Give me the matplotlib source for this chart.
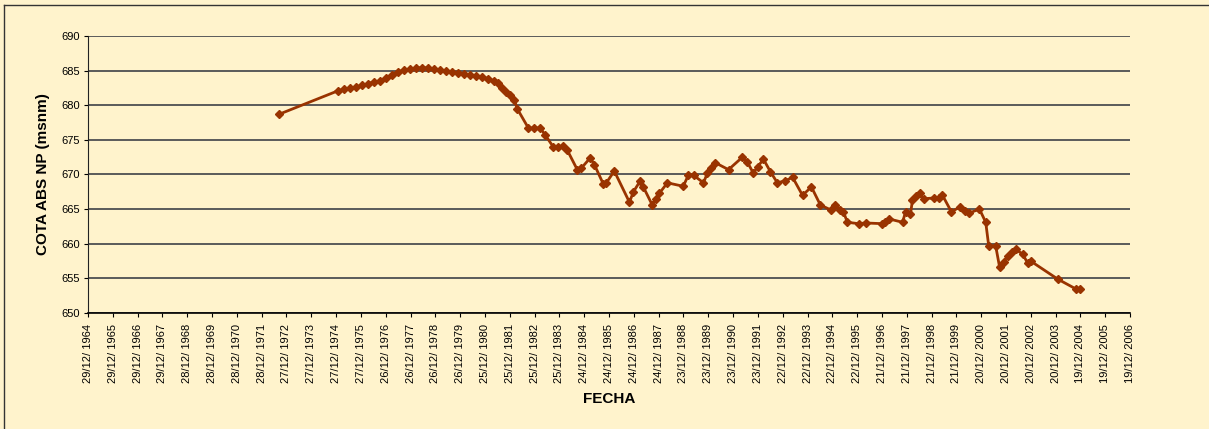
from datetime import datetime, timedelta
import matplotlib
matplotlib.use('Agg')
import matplotlib.pyplot as plt
import matplotlib.dates as mdates
from matplotlib.lines import Line2D

BG = '#FFF3CC'
LINE = '#993300'

# fecha (años decimales) y cota (msnm)
fecha = [1972.69, 1975.07, 1975.31, 1975.55, 1975.79, 1976.03, 1976.28, 1976.52,
         1976.76, 1977.00, 1977.24, 1977.49, 1977.73, 1977.97, 1978.21, 1978.45,
         1978.69, 1978.94, 1979.18, 1979.42, 1979.66, 1979.90, 1980.15, 1980.39,
         1980.63, 1980.87, 1981.11, 1981.35, 1981.52, 1981.68, 1981.84, 1982.00,
         1982.16, 1982.28, 1982.73, 1982.97, 1983.21, 1983.41, 1983.73, 1983.93,
         1984.14, 1984.30, 1984.70, 1984.86, 1985.22, 1985.39, 1985.75, 1985.87,
         1986.19, 1986.80, 1986.96, 1987.24, 1987.36, 1987.72, 1987.88, 1988.01,
         1988.33, 1988.97, 1989.17, 1989.38, 1989.78, 1989.94, 1990.10, 1990.26,
         1990.79, 1991.35, 1991.55, 1991.79, 1991.96, 1992.20, 1992.48, 1992.76,
         1993.08, 1993.37, 1993.77, 1994.13, 1994.49, 1994.90, 1995.10, 1995.30,
         1995.42, 1995.58, 1996.03, 1996.31, 1996.99, 1997.11, 1997.24, 1997.80,
         1997.92, 1998.12, 1998.20, 1998.36, 1998.49, 1998.65, 1999.05, 1999.25,
         1999.41, 1999.77, 2000.10, 2000.30, 2000.46, 2000.90, 2001.15, 2001.27,
         2001.55, 2001.71, 2001.87, 2002.03, 2002.19, 2002.35, 2002.64, 2002.84,
         2002.96, 2004.05, 2004.77, 2004.93]
cota = [678.7, 682.1, 682.3, 682.5, 682.6, 682.9, 683.1, 683.4,
        683.5, 683.9, 684.4, 684.8, 685.1, 685.2, 685.4, 685.4,
        685.4, 685.2, 685.1, 684.9, 684.8, 684.7, 684.5, 684.4,
        684.2, 684.1, 683.8, 683.5, 683.2, 682.5, 681.9, 681.5,
        680.8, 679.5, 676.7, 676.7, 676.7, 675.7, 674.0, 674.0,
        674.1, 673.5, 670.7, 670.9, 672.4, 671.4, 668.6, 668.8,
        670.5, 666.0, 667.5, 669.1, 668.2, 665.6, 666.5, 667.3,
        668.8, 668.3, 669.9, 669.9, 668.8, 670.2, 670.9, 671.7,
        670.7, 672.5, 671.8, 670.2, 671.1, 672.2, 670.4, 668.8,
        669.1, 669.6, 667.0, 668.2, 665.6, 664.9, 665.6, 664.9,
        664.6, 663.1, 662.9, 663.0, 662.9, 663.1, 663.6, 663.1,
        664.6, 664.3, 666.3, 666.9, 667.3, 666.5, 666.6, 666.6,
        667.0, 664.6, 665.3, 664.7, 664.4, 665.0, 663.1, 659.7,
        659.7, 656.6, 657.4, 658.2, 658.8, 659.2, 658.5, 657.2,
        657.5, 654.9, 653.5, 653.5]

# eje x: marcas cada 365 dias desde 29/12/1964
tick_start = datetime(1964, 12, 29)
n_ticks = 43
y_ticks = list(range(650, 691, 5))


def to_date(yr):
    y0 = int(yr)
    return datetime(y0, 1, 1) + timedelta(days=(yr - y0) * 365.25)


fechas = [to_date(f) for f in fecha]
ticks = [tick_start + timedelta(days=365 * k) for k in range(n_ticks)]

plt.rcParams['font.family'] = ['Liberation Sans', 'DejaVu Sans']

fig = plt.figure(figsize=(12.09, 4.29), dpi=100, facecolor=BG)
ax = fig.add_axes([0.0728, 0.2704, 0.8619, 0.6457])
ax.set_facecolor(BG)

ax.plot(fechas, cota, color=LINE, lw=2, marker='D', ms=3.6, mec=LINE, mfc=LINE, zorder=3)

ax.set_ylim(650, 690)
ax.set_yticks(y_ticks)
ax.set_xlim(ticks[0], ticks[-1])
ax.set_xticks(ticks)
ax.xaxis.set_major_formatter(mdates.DateFormatter('%d/%m/ %Y'))
for lab in ax.get_xticklabels():
    lab.set_rotation(90)
    lab.set_fontsize(8)
    lab.set_family(['Liberation Sans Narrow', 'Liberation Sans', 'DejaVu Sans'])
for lab in ax.get_yticklabels():
    lab.set_fontsize(8)

ax.grid(axis='y', color='#5a5a5a', lw=1.4)
ax.set_axisbelow(True)
for s in ['top', 'right']:
    ax.spines[s].set_visible(False)
ax.spines['left'].set_color('#222222')
ax.spines['left'].set_linewidth(0.8)
ax.spines['bottom'].set_color('black')
ax.spines['bottom'].set_linewidth(1.2)
ax.tick_params(axis='both', direction='out', length=3, width=0.8, pad=3)
ax.tick_params(axis='x', pad=5)

ax.set_ylabel('COTA ABS NP (msnm)', fontsize=11, fontweight='bold', labelpad=8)
ax.set_xlabel('FECHA', fontsize=11, fontweight='bold', labelpad=6)

# marco del grafico (solo se ve el borde superior e izquierdo)
fig.add_artist(Line2D([0.003, 0.003], [0.0, 0.988], transform=fig.transFigure,
                      color='#333333', lw=1.0))
fig.add_artist(Line2D([0.003, 1.0], [0.988, 0.988], transform=fig.transFigure,
                      color='#333333', lw=1.0))

fig.savefig('out.png', dpi=100, facecolor=BG)
